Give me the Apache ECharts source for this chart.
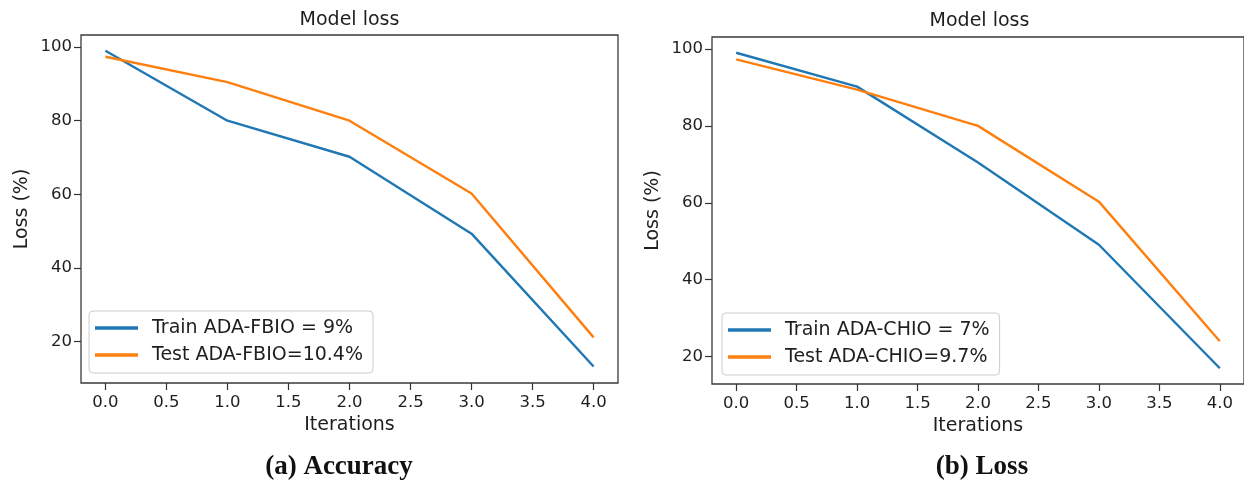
<!DOCTYPE html>
<html>
<head>
<meta charset="utf-8">
<script src="https://cdn.jsdelivr.net/npm/echarts@6/dist/echarts.min.js"></script>
<style>
html,body{margin:0;padding:0;background:#fff;}
#chart{width:1244px;height:485px;}
</style>
</head>
<body>
<div id="chart"></div>
<script>
// ---- data ----
const iterations = [0, 1, 2, 3, 4];
const trainFBIO = [99, 80, 70.2, 49.3, 13.2];
const testFBIO  = [97.4, 90.5, 80, 60.2, 21.1];
const trainCHIO = [99, 90.2, 70.5, 49.1, 17];
const testCHIO  = [97.3, 89.4, 80, 60.3, 24];
const xTicks = [0, 0.5, 1, 1.5, 2, 2.5, 3, 3.5, 4];
const yTicks = [20, 40, 60, 80, 100];
const nameTrainA = 'Train ADA-FBIO = 9%';
const nameTestA = 'Test ADA-FBIO=10.4%';
const nameTrainB = 'Train ADA-CHIO = 7%';
const nameTestB = 'Test ADA-CHIO=9.7%';
const titleText = 'Model loss';
const xName = 'Iterations';
const yName = 'Loss (%)';
const captionA = '(a) Accuracy';
const captionB = '(b) Loss';

const BLUE = '#1f77b4', ORANGE = '#ff7f0e';
const FONT = 'DejaVu Sans';
const TXT = '#1e1e1e';

const pairs = (xs, ys) => xs.map((x, i) => [x, ys[i]]);

function xAxisFor(gi) {
  return {
    type: 'value', gridIndex: gi, min: -0.2, max: 4.2, position: 'bottom',
    name: xName, nameLocation: 'middle', nameGap: 32,
    nameTextStyle: {fontFamily: FONT, fontSize: 19, color: TXT},
    axisLine: {show: false, onZero: false},
    axisTick: {show: true, length: 7, inside: false, customValues: xTicks,
               lineStyle: {color: '#333', width: 1.2}},
    axisLabel: {customValues: xTicks, margin: 11, fontFamily: FONT, fontSize: 16.5, color: TXT,
                formatter: v => Number(v).toFixed(1)},
    splitLine: {show: false}
  };
}
function yAxisFor(gi, mn, mx) {
  return {
    type: 'value', gridIndex: gi, min: mn, max: mx, position: 'left',
    name: yName, nameLocation: 'middle', nameGap: 49, nameRotate: 90,
    nameTextStyle: {fontFamily: FONT, fontSize: 19, color: TXT},
    axisLine: {show: false, onZero: false},
    axisTick: {show: true, length: 7, inside: false, customValues: yTicks,
               lineStyle: {color: '#333', width: 1.2}},
    axisLabel: {customValues: yTicks, margin: 9, fontFamily: FONT, fontSize: 16.5, color: TXT},
    splitLine: {show: false}
  };
}
function lineSeries(name, gi, ys, color) {
  return {
    type: 'line', name: name, xAxisIndex: gi, yAxisIndex: gi,
    data: pairs(iterations, ys), symbol: 'none', smooth: false,
    lineStyle: {color: color, width: 2.4}, itemStyle: {color: color},
    animation: false
  };
}
function legendFor(left, top, names) {
  return {
    orient: 'vertical', left: left, top: top, data: names.map(n => ({name: n, icon: 'rect'})),
    itemWidth: 43, itemHeight: 3.5, itemGap: 5,
    padding: [6, 10, 7, 6],
    backgroundColor: 'rgba(255,255,255,0.85)', borderColor: '#cccccc', borderWidth: 1, borderRadius: 4,
    textStyle: {fontFamily: FONT, fontSize: 19, color: TXT, lineHeight: 22, padding: [0, 0, 0, 9]},
    selectedMode: false
  };
}

const chart = echarts.init(document.getElementById('chart'), null, {renderer: 'canvas'});
chart.setOption({
  backgroundColor: '#ffffff',
  animation: false,
  grid: [
    {left: 81, top: 35, width: 537, height: 348, show: true, borderColor: '#3a3a3a', borderWidth: 1.3, backgroundColor: 'transparent'},
    {left: 712, top: 37, width: 535, height: 347, show: true, borderColor: '#3a3a3a', borderWidth: 1.3, backgroundColor: 'transparent'}
  ],
  xAxis: [xAxisFor(0), xAxisFor(1)],
  yAxis: [yAxisFor(0, 8.7, 103.3), yAxisFor(1, 12.9, 103.1)],
  legend: [
    legendFor(89, 311, [nameTrainA, nameTestA]),
    legendFor(722, 313, [nameTrainB, nameTestB])
  ],
  series: [
    lineSeries(nameTrainA, 0, trainFBIO, BLUE),
    lineSeries(nameTestA, 0, testFBIO, ORANGE),
    lineSeries(nameTrainB, 1, trainCHIO, BLUE),
    lineSeries(nameTestB, 1, testCHIO, ORANGE)
  ],
  graphic: [
    {type: 'text', x: 349.5, y: 20, style: {text: titleText, font: '19px "DejaVu Sans"', fill: TXT, textAlign: 'center', textVerticalAlign: 'middle'}},
    {type: 'text', x: 979.5, y: 21, style: {text: titleText, font: '19px "DejaVu Sans"', fill: TXT, textAlign: 'center', textVerticalAlign: 'middle'}},
    {type: 'text', x: 339, y: 467, style: {text: captionA, font: 'bold 27px "Liberation Serif"', fill: '#111', textAlign: 'center', textVerticalAlign: 'middle'}},
    {type: 'text', x: 982, y: 467, style: {text: captionB, font: 'bold 27px "Liberation Serif"', fill: '#111', textAlign: 'center', textVerticalAlign: 'middle'}}
  ]
});
</script>
</body>
</html>
